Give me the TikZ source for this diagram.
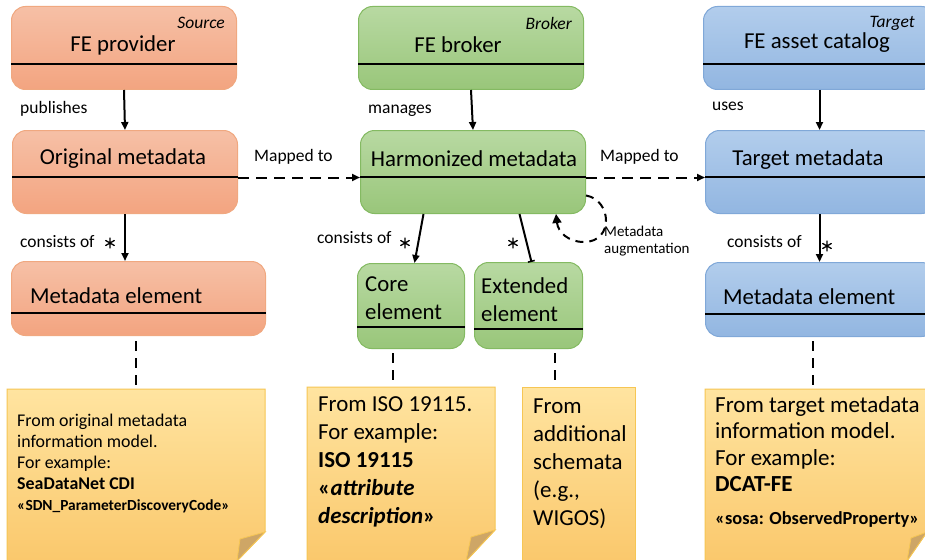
\documentclass[tikz,border=0pt]{standalone}
\usepackage{fontspec}
\setmainfont{Carlito}
\usetikzlibrary{arrows.meta,calc}

% palette
\definecolor{orTop}{RGB}{246,192,166}
\definecolor{orBot}{RGB}{243,164,128}
\definecolor{orLine}{RGB}{240,168,128}
\definecolor{grTop}{RGB}{184,217,162}
\definecolor{grBot}{RGB}{153,198,122}
\definecolor{grLine}{RGB}{132,186,98}
\definecolor{blTop}{RGB}{178,205,236}
\definecolor{blBot}{RGB}{146,182,225}
\definecolor{blLine}{RGB}{128,168,216}
\definecolor{ntTop}{RGB}{255,228,160}
\definecolor{ntBot}{RGB}{250,200,108}
\definecolor{ntLine}{RGB}{246,198,84}
\definecolor{ntFold}{RGB}{206,166,102}

\tikzset{
  classbox/.style={rounded corners=14pt, line width=1pt, anchor=north west, inner sep=0pt},
  orangebox/.style={classbox, draw=orLine, top color=orTop, bottom color=orBot},
  greenbox/.style={classbox, draw=grLine, top color=grTop, bottom color=grBot},
  bluebox/.style={classbox, draw=blLine, top color=blTop, bottom color=blBot},
  divider/.style={line width=2.2pt, black},
  title/.style={font=\fontsize{22.8}{26}\selectfont, inner sep=0pt},
  role/.style={font=\fontsize{17.5}{20}\selectfont\itshape, inner sep=0pt, anchor=east},
  lbl/.style={font=\fontsize{17.5}{20}\selectfont, inner sep=0pt, anchor=west},
  arr/.style={line width=2pt, -{Triangle[length=8pt,width=7pt]}},
  maparr/.style={line width=2pt, dash pattern=on 11pt off 7pt, -{Triangle[length=8pt,width=7pt]}},
  notelink/.style={line width=2.4pt, dash pattern=on 10pt off 7pt},
  notepaper/.style={draw=ntLine, line width=1pt, top color=ntTop, bottom color=ntBot},
  foldcorner/.style={fill=ntFold, draw=ntLine, line width=0.8pt},
  mult/.style={line width=1.3pt, line cap=round},
  % multiplicity mark: a small six-spoke star
  multmark/.style={inner sep=0pt, minimum size=11pt, path picture={
    \draw[mult] ($(path picture bounding box.center)+(0,-5)$) -- ($(path picture bounding box.center)+(0,5)$)
      ($(path picture bounding box.center)+(-4.3,-2.5)$) -- ($(path picture bounding box.center)+(4.3,2.5)$)
      ($(path picture bounding box.center)+(-4.3,2.5)$) -- ($(path picture bounding box.center)+(4.3,-2.5)$);}},
}

\begin{document}
\begin{tikzpicture}[x=1pt, y=-1pt]
\clip (0,0) rectangle (925,559);
\fill[white] (0,0) rectangle (925,559);

% ---------- class boxes ----------
\node[orangebox, minimum width=225pt, minimum height=83pt] (prov) at (11,6) {};
\node[orangebox, minimum width=225pt, minimum height=83pt] (orig) at (12,130) {};
\node[orangebox, minimum width=254pt, minimum height=74pt] (melo) at (11,261) {};

\node[greenbox, minimum width=225pt, minimum height=83pt] (brok) at (358,6) {};
\node[greenbox, minimum width=225pt, minimum height=83pt] (harm) at (360,130) {};
\node[greenbox, minimum width=107pt, minimum height=85pt] (core) at (357,263) {};
\node[greenbox, minimum width=108pt, minimum height=86pt] (ext) at (474,262) {};

\node[bluebox, minimum width=232pt, minimum height=83pt] (cat) at (703,6) {};
\node[bluebox, minimum width=230pt, minimum height=83pt] (tgt) at (705,130) {};
\node[bluebox, minimum width=230pt, minimum height=74pt] (melb) at (705,262) {};

% dividers
\draw[divider] (prov.west |- 0,64) -- (prov.east |- 0,64);
\draw[divider] (orig.west |- 0,177) -- (orig.east |- 0,177);
\draw[divider] (melo.west |- 0,313) -- (melo.east |- 0,313);
\draw[divider] (brok.west |- 0,64) -- (brok.east |- 0,64);
\draw[divider] (harm.west |- 0,177) -- (harm.east |- 0,177);
\draw[divider] (core.west |- 0,327) -- (core.east |- 0,327);
\draw[divider] (ext.west |- 0,329) -- (ext.east |- 0,329);
\draw[divider] (cat.west |- 0,64) -- (cat.east |- 0,64);
\draw[divider] (tgt.west |- 0,177) -- (tgt.east |- 0,177);
\draw[divider] (melb.west |- 0,314) -- (melb.east |- 0,314);

% box titles
\node[role] (rsrc) at (225,23) {Source};
\node[title] (tprov) at (123,45) {FE provider};
\node[title] (torig) at (123,159) {Original metadata};
\node[title, anchor=west] (tmelo) at (30,296) {Metadata element};

\node[role] (rbrk) at (572,23) {Broker};
\node[title] (tbrok) at (458,45) {FE broker};
\node[title] (tharm) at (474,159) {Harmonized metadata};
\node[title, anchor=north west, align=left, font=\fontsize{22.8}{28}\selectfont] (tcore) at (365,277) {Core\\element};
\node[title, anchor=north west, align=left, font=\fontsize{22.8}{28}\selectfont] (text) at (481,277) {Extended\\element};

\node[role] (rtgt) at (915,23) {Target};
\node[title] (tcat) at (817,43) {FE asset catalog};
\node[title] (ttgt) at (808,160) {Target metadata};
\node[title, anchor=west] (tmelb) at (723,297) {Metadata element};

% ---------- notes ----------
\path[notepaper] (7,389) -- (265,389) -- (265,532) -- (237,561) -- (7,561) -- cycle;
\path[foldcorner] (265,532) -- (240,539) -- (237,561) -- cycle;
\path[notepaper] (307,387) -- (495,387) -- (495,530) -- (466,561) -- (307,561) -- cycle;
\path[foldcorner] (495,530) -- (471,537) -- (466,561) -- cycle;
\path[notepaper] (522,387) -- (635,387) -- (635,561) -- (522,561) -- cycle;
\path[notepaper] (705,389) -- (927,389) -- (927,532) -- (907,561) -- (705,561) -- cycle;
\path[foldcorner] (927,532) -- (911,538) -- (907,561) -- cycle;

\coordinate (n1) at (136,389);
\coordinate (n2) at (393,387);
\coordinate (n3) at (555,387);
\coordinate (n4) at (813,389);

\node[anchor=north west, align=left, inner sep=0pt, font=\fontsize{17.9}{21}\selectfont] (note1) at (17,414)
  {From original metadata\\information model.\\For example:\\\textbf{SeaDataNet CDI}\\{\fontsize{15.4}{20}\selectfont\textbf{«SDN\_ParameterDiscoveryCode»}}};
\node[anchor=north west, align=left, inner sep=0pt, font=\fontsize{22.9}{28}\selectfont] (note2) at (318,396)
  {From ISO 19115.\\For example:\\\textbf{ISO 19115}\\\textbf{«\textit{attribute}}\\\textbf{\textit{description}»}};
\node[anchor=north west, align=left, inner sep=0pt, font=\fontsize{22.9}{28}\selectfont] (note3) at (533,399)
  {From\\additional\\schemata\\(e.g.,\\WIGOS)};
\node[anchor=north west, align=left, inner sep=0pt, font=\fontsize{23}{26.5}\selectfont] (note4) at (715,396)
  {From target metadata\\information model.\\For example:\\\textbf{DCAT-FE}\\[6pt]{\fontsize{18.4}{20}\selectfont\textbf{«sosa: ObservedProperty»}}};

% ---------- connectors ----------
\draw[arr] (prov.south) -- (orig.north);
\node[lbl] (lpub) at (20,109) {publishes};
\draw[arr] (brok.south) -- (harm.north);
\node[lbl] (lman) at (368,111) {manages};
\draw[arr] (cat.south) -- (cat.south |- tgt.north);
\node[lbl] (luse) at (712,106) {uses};

\draw[maparr] ([yshift=-5.5pt]orig.east) -- ([yshift=-5.5pt]harm.west);
\node[lbl] (lmap1) at (254,157) {Mapped to};
\draw[maparr] ([yshift=-5.5pt]harm.east) -- ([yshift=-5.5pt]tgt.west);
\node[lbl] (lmap2) at (600,157) {Mapped to};

\draw[arr] (orig.south) -- (orig.south |- melo.north);
\node[lbl] (lcon1) at (20,242) {consists of};
\node[multmark] (s1) at (110,243) {};

\draw[arr] ([xshift=-49.5pt]harm.south) -- ([xshift=3.5pt]core.north);
\node[lbl] (lcon2) at (317,238) {consists of};
\node[multmark] (s2) at (405,243) {};

\draw[line width=2pt, -{Bar[width=7pt,line width=1.5pt]}] ([xshift=46.5pt]harm.south) -- ([xshift=3pt]ext.north);
\node[multmark] (s3) at (513,243) {};

\draw[arr] (tgt.south -| cat.south) -- (cat.south |- melb.north);
\node[lbl] (lcon3) at (727,242) {consists of};
\node[multmark] (s4) at (827,246) {};

% self association
\draw[line width=2pt, dash pattern=on 8pt off 6pt, -{Triangle[length=9pt,width=9pt]}]
  ([yshift=-23.5pt]harm.east) .. controls (612,200) and (614,242) .. (584,242)
  .. controls (568,242) and (558,232) .. ([xshift=-30pt]harm.south east);
\node[anchor=north west, align=left, inner sep=0pt, font=\fontsize{15}{17}\selectfont] (laug) at (604,226) {Metadata\\augmentation};

% note links
\draw[notelink] ([yshift=-5pt]n1 |- melo.south) -- (n1);
\draw[notelink] ([yshift=-4pt]n2 |- core.south) -- (n2);
\draw[notelink] ([yshift=-4pt]n3 |- ext.south) -- (n3);
\draw[notelink] ([yshift=-4pt]n4 |- melb.south) -- (n4);
\end{tikzpicture}
\end{document}
